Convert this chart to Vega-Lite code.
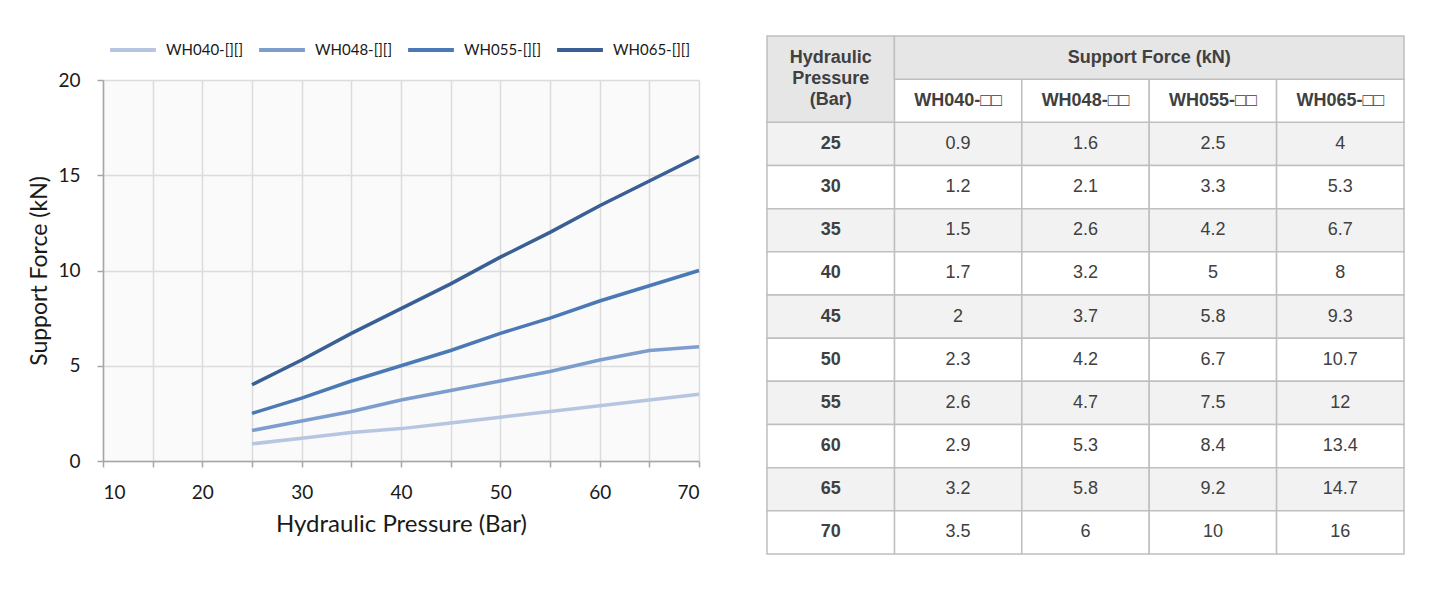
{
  "$schema": "https://vega.github.io/schema/vega-lite/v6.json",
  "background": "white",
  "padding": {"left": 28, "top": 25, "right": 5, "bottom": 5},
  "spacing": 60,
  "config": {
    "view": {"stroke": null},
    "font": "Lato"
  },
  "datasets": {
    "force": [
      {"p": 25, "model": "WH040", "f": 0.9}, {"p": 30, "model": "WH040", "f": 1.2}, {"p": 35, "model": "WH040", "f": 1.5}, {"p": 40, "model": "WH040", "f": 1.7}, {"p": 45, "model": "WH040", "f": 2}, {"p": 50, "model": "WH040", "f": 2.3}, {"p": 55, "model": "WH040", "f": 2.6}, {"p": 60, "model": "WH040", "f": 2.9}, {"p": 65, "model": "WH040", "f": 3.2}, {"p": 70, "model": "WH040", "f": 3.5},
      {"p": 25, "model": "WH048", "f": 1.6}, {"p": 30, "model": "WH048", "f": 2.1}, {"p": 35, "model": "WH048", "f": 2.6}, {"p": 40, "model": "WH048", "f": 3.2}, {"p": 45, "model": "WH048", "f": 3.7}, {"p": 50, "model": "WH048", "f": 4.2}, {"p": 55, "model": "WH048", "f": 4.7}, {"p": 60, "model": "WH048", "f": 5.3}, {"p": 65, "model": "WH048", "f": 5.8}, {"p": 70, "model": "WH048", "f": 6},
      {"p": 25, "model": "WH055", "f": 2.5}, {"p": 30, "model": "WH055", "f": 3.3}, {"p": 35, "model": "WH055", "f": 4.2}, {"p": 40, "model": "WH055", "f": 5}, {"p": 45, "model": "WH055", "f": 5.8}, {"p": 50, "model": "WH055", "f": 6.7}, {"p": 55, "model": "WH055", "f": 7.5}, {"p": 60, "model": "WH055", "f": 8.4}, {"p": 65, "model": "WH055", "f": 9.2}, {"p": 70, "model": "WH055", "f": 10},
      {"p": 25, "model": "WH065", "f": 4}, {"p": 30, "model": "WH065", "f": 5.3}, {"p": 35, "model": "WH065", "f": 6.7}, {"p": 40, "model": "WH065", "f": 8}, {"p": 45, "model": "WH065", "f": 9.3}, {"p": 50, "model": "WH065", "f": 10.7}, {"p": 55, "model": "WH065", "f": 12}, {"p": 60, "model": "WH065", "f": 13.4}, {"p": 65, "model": "WH065", "f": 14.7}, {"p": 70, "model": "WH065", "f": 16}
    ],
    "models": [
      {"model": "WH040", "lbl": "WH040-□□"},
      {"model": "WH048", "lbl": "WH048-□□"},
      {"model": "WH055", "lbl": "WH055-□□"},
      {"model": "WH065", "lbl": "WH065-□□"}
    ]
  },
  "hconcat": [
    {
      "width": 596,
      "height": 381,
      "view": {"fill": "#fafafa", "stroke": null},
      "data": {"name": "force"},
      "mark": {"type": "line", "strokeWidth": 3.5},
      "encoding": {
        "x": {
          "field": "p", "type": "quantitative",
          "scale": {"domain": [10, 70], "nice": false, "zero": false},
          "axis": {
            "values": [10, 15, 20, 25, 30, 35, 40, 45, 50, 55, 60, 65, 70],
            "labelExpr": "datum.value % 10 == 0 ? datum.label : ''",
            "title": "Hydraulic Pressure (Bar)",
            "titleFont": "Lato", "titleFontSize": 24, "titleFontWeight": "normal", "titleColor": "#1a1a1a", "titlePadding": 10,
            "labelFont": "Lato", "labelFontSize": 19, "labelColor": "#1a1a1a", "labelPadding": 16,
            "grid": true, "gridColor": "#dcdcdc", "gridWidth": 1.5,
            "domainColor": "#a6a6a6", "domainWidth": 1.5,
            "tickColor": "#a6a6a6", "tickWidth": 1.5, "tickSize": 6
          }
        },
        "y": {
          "field": "f", "type": "quantitative",
          "scale": {"domain": [0, 20], "nice": false},
          "axis": {
            "values": [0, 5, 10, 15, 20],
            "title": "Support Force (kN)",
            "titleFont": "Lato", "titleFontSize": 23, "titleFontWeight": "normal", "titleColor": "#1a1a1a", "titlePadding": 6,
            "labelFont": "Lato", "labelFontSize": 19, "labelColor": "#1a1a1a", "labelPadding": 17,
            "grid": true, "gridColor": "#dcdcdc", "gridWidth": 1.5,
            "domainColor": "#a6a6a6", "domainWidth": 1.5,
            "tickColor": "#a6a6a6", "tickWidth": 1.5, "tickSize": 6
          }
        },
        "color": {
          "field": "model", "type": "nominal",
          "scale": {"domain": ["WH040", "WH048", "WH055", "WH065"], "range": ["#b6c6e1", "#7d9dcc", "#4a79b5", "#3a5f94"]},
          "legend": {
            "orient": "none", "legendX": 5, "legendY": -55,
            "direction": "horizontal", "columns": 4,
            "title": null,
            "labelExpr": "datum.label + '-[][]'",
            "labelFont": "Lato", "labelFontSize": 15, "labelColor": "#1a1a1a", "labelOffset": 8,
            "symbolType": "stroke", "symbolSize": 2100, "symbolStrokeWidth": 4,
            "columnPadding": 7
          }
        }
      }
    },
    {
      "width": 637,
      "height": 474,
      "layer": [
        {
          "data": {"name": "force"},
          "mark": {"type": "rect", "stroke": "#bfbfbf", "strokeWidth": 1.5},
          "encoding": {
            "x": {"field": "model", "type": "nominal", "axis": null,
                  "scale": {"type": "band", "domain": ["P", "WH040", "WH048", "WH055", "WH065"], "paddingInner": 0, "paddingOuter": 0}},
            "y": {"field": "p", "type": "ordinal", "axis": null,
                  "scale": {"type": "band", "domain": ["h1", "h2", 25, 30, 35, 40, 45, 50, 55, 60, 65, 70], "range": [-44, 474], "paddingInner": 0, "paddingOuter": 0}},
            "fill": {"condition": {"test": "indexof([25,35,45,55,65], datum.p) >= 0", "value": "#f2f2f2"}, "value": "#ffffff"}
          }
        },
        {
          "data": {"name": "force"},
          "transform": [{"filter": "datum.model == 'WH040'"}],
          "mark": {"type": "rect", "stroke": "#bfbfbf", "strokeWidth": 1.5},
          "encoding": {
            "x": {"datum": "P", "type": "nominal", "axis": null},
            "y": {"field": "p", "type": "ordinal", "axis": null},
            "fill": {"condition": {"test": "indexof([25,35,45,55,65], datum.p) >= 0", "value": "#f2f2f2"}, "value": "#ffffff"}
          }
        },
        {
          "data": {"name": "models"},
          "mark": {"type": "rect", "stroke": "#bfbfbf", "strokeWidth": 1.5, "fill": "#ffffff"},
          "encoding": {
            "x": {"field": "model", "type": "nominal", "axis": null},
            "y": {"datum": "h2", "type": "ordinal", "axis": null}
          }
        },
        {
          "data": {"values": [{}]},
          "mark": {"type": "rect", "stroke": "#bfbfbf", "strokeWidth": 1.5, "fill": "#e6e6e6"},
          "encoding": {
            "x": {"datum": "P", "type": "nominal", "axis": null},
            "y": {"datum": "h1", "type": "ordinal", "bandPosition": 0, "axis": null},
            "y2": {"datum": "h2", "bandPosition": 1}
          }
        },
        {
          "data": {"values": [{}]},
          "mark": {"type": "rect", "stroke": "#bfbfbf", "strokeWidth": 1.5, "fill": "#e6e6e6"},
          "encoding": {
            "x": {"datum": "WH040", "type": "nominal", "bandPosition": 0, "axis": null},
            "x2": {"datum": "WH065", "bandPosition": 1},
            "y": {"datum": "h1", "type": "ordinal", "axis": null}
          }
        },
        {
          "data": {"name": "force"},
          "mark": {"type": "text", "font": "Liberation Sans", "fontSize": 18, "color": "#404040"},
          "encoding": {
            "x": {"field": "model", "type": "nominal", "axis": null},
            "y": {"field": "p", "type": "ordinal", "axis": null},
            "text": {"field": "f", "type": "nominal"}
          }
        },
        {
          "data": {"name": "force"},
          "transform": [{"filter": "datum.model == 'WH040'"}],
          "mark": {"type": "text", "font": "Liberation Sans", "fontSize": 18, "fontWeight": "bold", "color": "#404040"},
          "encoding": {
            "x": {"datum": "P", "type": "nominal", "axis": null},
            "y": {"field": "p", "type": "ordinal", "axis": null},
            "text": {"field": "p", "type": "nominal"}
          }
        },
        {
          "data": {"name": "models"},
          "mark": {"type": "text", "font": "Liberation Sans", "fontSize": 18, "fontWeight": "bold", "color": "#404040"},
          "encoding": {
            "x": {"field": "model", "type": "nominal", "axis": null},
            "y": {"datum": "h2", "type": "ordinal", "axis": null},
            "text": {"field": "lbl", "type": "nominal"}
          }
        },
        {
          "data": {"values": [{"t": "Support Force (kN)"}]},
          "mark": {"type": "text", "font": "Liberation Sans", "fontSize": 18, "fontWeight": "bold", "color": "#404040"},
          "encoding": {
            "x": {"datum": "WH055", "type": "nominal", "bandPosition": 0, "axis": null},
            "y": {"datum": "h1", "type": "ordinal", "axis": null},
            "text": {"field": "t", "type": "nominal"}
          }
        },
        {
          "data": {"values": [{}]},
          "mark": {"type": "text", "font": "Liberation Sans", "fontSize": 18, "fontWeight": "bold", "color": "#404040", "text": ["Hydraulic", "Pressure", "(Bar)"], "lineHeight": 21, "baseline": "middle"},
          "encoding": {
            "x": {"datum": "P", "type": "nominal", "axis": null},
            "y": {"datum": "h1", "type": "ordinal", "axis": null}
          }
        }
      ]
    }
  ]
}
